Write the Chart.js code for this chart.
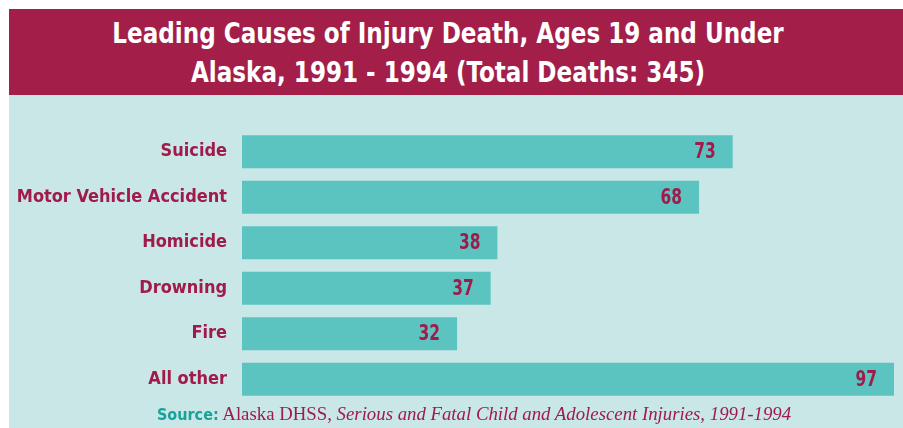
<!DOCTYPE html>
<html>
<head>
<meta charset="utf-8">
<script src="https://cdn.jsdelivr.net/npm/chart.js@4"></script>
<style>
  html, body { margin: 0; padding: 0; background: #ffffff; }
  #wrap { position: relative; width: 903px; height: 428px; overflow: hidden; background: #ffffff; }
  #banner { position: absolute; left: 9px; top: 9px; width: 894px; height: 86px; background: #a31f4a; }
  .tline { position: absolute; left: 0; width: 878px; text-align: center; color: #ffffff;
           font-family: 'DejaVu Sans Condensed', 'DejaVu Sans', sans-serif; font-stretch: condensed;
           font-weight: bold; font-size: 29px; line-height: 30px; white-space: nowrap;
           transform: scaleX(0.885); transform-origin: 50% 50%; }
  #panel { position: absolute; left: 9px; top: 95px; width: 894px; height: 333px; background: #c9e7e7; }
  #chartBox { position: absolute; left: 0; top: 0; width: 894px; height: 333px; }
  #source { position: absolute; left: 148px; top: 309px; white-space: nowrap; color: #a01a4b;
            font-family: 'Liberation Serif', 'DejaVu Serif', serif; font-size: 18.8px; line-height: 20px; }
  #source .lab { color: #17a39b; font-family: 'DejaVu Sans Condensed', 'DejaVu Sans', sans-serif; font-stretch: condensed; font-weight: bold; font-size: 16px; }
</style>
</head>
<body>
<div id="wrap">
  <div id="banner">
    <div class="tline" id="t1" style="top: 9px;"></div>
    <div class="tline" id="t2" style="top: 48px;"></div>
  </div>
  <div id="panel">
    <div id="chartBox"><canvas id="c" width="894" height="333"></canvas></div>
    <div id="source"><span class="lab">Source:</span> Alaska DHSS, <i>Serious and Fatal Child and Adolescent Injuries, 1991-1994</i></div>
  </div>
</div>
<script>
const titleLines = ["Leading Causes of Injury Death, Ages 19 and Under", "Alaska, 1991 - 1994 (Total Deaths: 345)"];
const categories = ["Suicide", "Motor Vehicle Accident", "Homicide", "Drowning", "Fire", "All other"];
const deaths = [73, 68, 38, 37, 32, 97];

document.getElementById('t1').textContent = titleLines[0];
document.getElementById('t2').textContent = titleLines[1];

const maroon = '#a01a4b';
const family = "'DejaVu Sans Condensed', 'DejaVu Sans', sans-serif";

const valueLabels = {
  id: 'valueLabels',
  afterDatasetsDraw(chart) {
    const ctx = chart.ctx;
    const meta = chart.getDatasetMeta(0);
    ctx.font = 'condensed bold 22px ' + family;
    ctx.fillStyle = maroon;
    ctx.textAlign = 'right';
    ctx.textBaseline = 'middle';
    const sx = 0.78;
    meta.data.forEach((bar, i) => {
      ctx.save();
      ctx.translate(bar.x - 17, bar.y + 1);
      ctx.scale(sx, 1);
      ctx.fillText(String(deaths[i]), 0, 0);
      ctx.restore();
    });
  }
};

new Chart(document.getElementById('c'), {
  type: 'bar',
  data: {
    labels: categories,
    datasets: [{
      data: deaths,
      backgroundColor: '#5bc4c0',
      borderWidth: 0,
      barPercentage: 0.72,
      categoryPercentage: 1.0
    }]
  },
  options: {
    indexAxis: 'y',
    responsive: false,
    animation: false,
    events: [],
    layout: { padding: { top: 34, bottom: 26, right: 9, left: 0 } },
    plugins: { legend: { display: false }, tooltip: { enabled: false }, title: { display: false } },
    scales: {
      x: { display: false, min: 0, max: 97 },
      y: {
        afterFit(scale) { scale.width = 233; },
        grid: { display: false, drawTicks: false },
        border: { display: false },
        ticks: {
          color: maroon,
          padding: 15,
          font: { family: family, weight: 'condensed bold', size: 18 }
        }
      }
    }
  },
  plugins: [valueLabels]
});
</script>
</body>
</html>
